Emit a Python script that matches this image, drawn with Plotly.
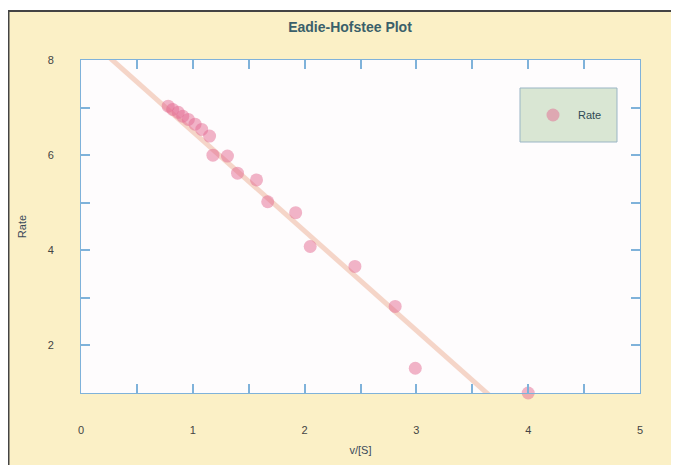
import plotly.graph_objects as go

# Data
v_over_s = [0.78, 0.82, 0.87, 0.91, 0.96, 1.02, 1.08, 1.15, 1.18, 1.31, 1.40, 1.57, 1.67, 1.92, 2.05, 2.45, 2.81, 2.99, 4.00]
rate     = [7.03, 6.96, 6.90, 6.82, 6.75, 6.65, 6.54, 6.40, 6.00, 5.98, 5.62, 5.48, 5.02, 4.79, 4.08, 3.66, 2.82, 1.52, 1.00]
fit_slope = -2.09
fit_intercept = 8.585
x_range = [0, 5]
y_range = [1, 8]
x_tickvals = [0, 1, 2, 3, 4, 5]
y_tickvals = [2, 4, 6, 8]

W, H = 679, 465
OFF = 8  # page body margin: figure origin sits at (8, 8) in the window
L, R, T, B = 81 - OFF, 39 + OFF, 60 - OFF, 72 + OFF
pw, ph = W - L - R, H - T - B

def px(xpix):
    return (xpix - OFF - L) / pw

def py(ypix):
    return (H - B - (ypix - OFF)) / ph

fit_x = list(x_range)
fit_y = [fit_intercept + fit_slope * xv for xv in fit_x]

fig = go.Figure()
fig.add_trace(go.Scatter(
    x=fit_x, y=fit_y, mode="lines",
    line=dict(color="rgba(240,192,172,0.65)", width=5),
    showlegend=False, hoverinfo="skip"))
fig.add_trace(go.Scatter(
    x=v_over_s, y=rate, mode="markers", name="Rate",
    marker=dict(color="rgba(228,105,145,0.5)", size=13, line=dict(width=0)),
    cliponaxis=False))

axis_common = dict(
    showgrid=False, zeroline=False, showline=True, linecolor="#7fb2da", linewidth=1,
    mirror="ticks", ticks="inside", ticklen=9, tickcolor="#7fb2da", tickwidth=1.5,
    tickfont=dict(family="Liberation Sans, Arial, sans-serif", size=11, color="#444"),
)

fig.update_xaxes(range=x_range, tickvals=x_tickvals, ticklabelstandoff=27,
                 minor=dict(dtick=0.5, ticks="inside", ticklen=9, tickcolor="#7fb2da", tickwidth=1.5),
                 title=dict(text="v/[S]", font=dict(family="Liberation Sans, Arial, sans-serif", size=11, color="#3a4a5a"), standoff=11),
                 **axis_common)
fig.update_yaxes(range=y_range, tickvals=y_tickvals, ticklabelstandoff=24,
                 minor=dict(dtick=1, ticks="inside", ticklen=9, tickcolor="#7fb2da", tickwidth=1.5),
                 title=dict(text="Rate", font=dict(family="Liberation Sans, Arial, sans-serif", size=11, color="#3a4a5a"), standoff=18),
                 **axis_common)

shapes = [
    # white strip above the framed yellow panel
    dict(type="rect", xref="paper", yref="paper", x0=px(0), x1=px(W + OFF), y0=py(11), y1=py(0),
         fillcolor="white", line=dict(width=0), layer="below"),
    # dark frame lines
    dict(type="line", xref="paper", yref="paper", x0=px(8.5), x1=px(8.5), y0=py(H + OFF), y1=py(11),
         line=dict(color="#444", width=2)),
    dict(type="line", xref="paper", yref="paper", x0=px(8), x1=px(W + OFF), y0=py(11), y1=py(11),
         line=dict(color="#444", width=2)),
    # legend box
    dict(type="rect", xref="paper", yref="paper", x0=px(520), x1=px(617), y0=py(142), y1=py(88),
         fillcolor="#d9e6d3", line=dict(color="#9ab5c5", width=1)),
]

fig.update_layout(
    width=W, height=H,
    margin=dict(l=L, r=R, t=T, b=B),
    paper_bgcolor="#fbf0c6",
    plot_bgcolor="#fefcfd",
    shapes=shapes,
    title=dict(text="<b>Eadie-Hofstee Plot</b>", x=(350 - OFF) / W, xanchor="center",
               y=1 - (27 - OFF) / H, yanchor="middle",
               font=dict(family="Liberation Sans, Arial, sans-serif", size=14, color="#3a5f6a")),
    legend=dict(x=px(528), y=py(115), xanchor="left", yanchor="middle",
                bgcolor="rgba(0,0,0,0)", borderwidth=0,
                font=dict(family="Liberation Sans, Arial, sans-serif", size=11, color="#2f4a55"),
                itemwidth=40),
    showlegend=True,
)

fig.write_html("out.html")
